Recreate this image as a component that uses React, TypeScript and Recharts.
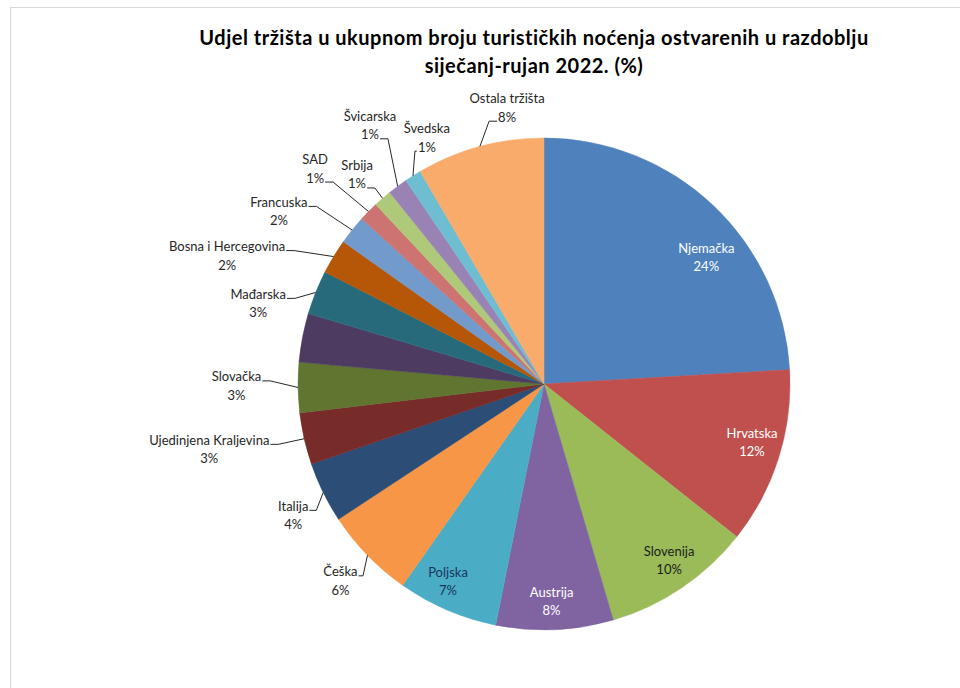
import { PieChart, Pie, Cell } from 'recharts'

// udjel tržišta, redom u smjeru kazaljke od vrha (%)
const markets = [
  'Njemačka',
  'Hrvatska',
  'Slovenija',
  'Austrija',
  'Poljska',
  'Češka',
  'Italija',
  'Ujedinjena Kraljevina',
  'Slovačka',
  '', // slice without a label in the original
  'Mađarska',
  'Bosna i Hercegovina',
  'Francuska',
  'SAD',
  'Srbija',
  'Švicarska',
  'Švedska',
  'Ostala tržišta',
]
const shares = [24.1, 11.6, 9.8, 7.7, 6.6, 6.0, 4.0, 3.4, 3.3, 3.2, 2.9, 2.3, 1.9, 1.3, 1.2, 1.3, 1.1, 8.4]

const colors = [
  '#4F81BD', '#C0504D', '#9BBB59', '#8064A2', '#4BACC6', '#F79646',
  '#2C4D75', '#772C2A', '#5F7530', '#4D3B62', '#276A7C', '#B65708',
  '#729ACA', '#CD7371', '#AFC97A', '#9983B5', '#6FBDD1', '#F9AB6B',
]

// label placement: angle clockwise from 12 o'clock, distance past the rim, where the leader attaches
type Place = { a: number; gap: number; attach: 'in' | 'name' | 'pct'; color?: string } | null
const places: Place[] = [
  { a: 52, gap: -40, attach: 'in', color: '#ffffff' },
  { a: 105.6, gap: -30, attach: 'in', color: '#ffffff' },
  { a: 144.6, gap: -30, attach: 'in', color: '#1a1a1a' },
  { a: 178, gap: -29, attach: 'in', color: '#ffffff' },
  { a: 206, gap: -27, attach: 'in', color: '#17365D' },
  { a: 226, gap: 37, attach: 'name' },
  { a: 242.4, gap: 37, attach: 'name' },
  { a: 259, gap: 95, attach: 'name' },
  { a: 269.7, gap: 61.5, attach: 'name' },
  null,
  { a: 285.8, gap: 51, attach: 'name' },
  { a: 292.1, gap: 96, attach: 'name' },
  { a: 303.1, gap: 70.5, attach: 'name' },
  { a: 313.3, gap: 68.5, attach: 'pct' },
  { a: 318.3, gap: 35, attach: 'pct' },
  { a: 326.1, gap: 66, attach: 'pct' },
  { a: 334.6, gap: 27, attach: 'pct' },
  { a: 352.4, gap: 33, attach: 'pct' },
]

const data = markets.map((name, i) => ({ name, value: shares[i] }))

const FONT = 'Lato, "Open Sans", sans-serif'
const FS = 13

let ctx: CanvasRenderingContext2D | null = null
function textWidth(s: string) {
  if (!ctx) ctx = document.createElement('canvas').getContext('2d')
  if (!ctx) return s.length * 6.5
  ctx.font = `${FS}px Lato`
  return ctx.measureText(s).width
}

const RAD = Math.PI / 180

function renderLabel(props: any) {
  const { cx, cy, midAngle, outerRadius, percent, index, name } = props
  const p = places[index]
  if (!p) return null
  const pct = `${Math.round(percent * 100)}%`
  const r = outerRadius + p.gap
  const lx = cx + r * Math.sin(p.a * RAD)
  const ly = cy - r * Math.cos(p.a * RAD)
  const nameY = ly - 9.25
  const pctY = ly + 9.25

  let leader = null
  if (p.attach !== 'in') {
    const m = (90 - midAngle) * RAD
    const ex = cx + outerRadius * Math.sin(m)
    const ey = cy - outerRadius * Math.cos(m)
    const row = p.attach === 'name' ? name : pct
    const half = textWidth(row) / 2
    const dir = ex > lx ? 1 : -1
    const ax = lx + dir * (half + 1)
    const ay = (p.attach === 'name' ? nameY : pctY) + 4.5
    const run = Math.min(8, Math.abs(ex - ax) * 0.5)
    const kx = ax + dir * run
    leader = (
      <path
        d={`M${ax},${ay}L${kx},${ay}L${ex},${ey}`}
        stroke="#262626"
        strokeWidth={1}
        fill="none"
      />
    )
  }

  const fill = p.color || '#262626'
  return (
    <g key={`lbl-${index}`}>
      {leader}
      <text x={lx} y={nameY} textAnchor="middle" dominantBaseline="central" fill={fill} fontFamily={FONT} fontSize={FS}>
        {name}
      </text>
      <text x={lx} y={pctY} textAnchor="middle" dominantBaseline="central" fill={fill} fontFamily={FONT} fontSize={FS}>
        {pct}
      </text>
    </g>
  )
}

export default function App() {
  return (
    <div
      style={{
        position: 'fixed',
        left: 0,
        top: 0,
        width: 960,
        height: 688,
        overflow: 'hidden',
        background: '#ffffff',
      }}
    >
      <div
        style={{
          position: 'absolute',
          left: 10,
          top: 7,
          width: 1000,
          height: 720,
          border: '1px solid #d9d9d9',
        }}
      />
      <div
        style={{
          position: 'absolute',
          left: 0,
          top: 23,
          width: 1068,
          textAlign: 'center',
          fontFamily: 'Lato, sans-serif',
          fontWeight: 700,
          fontSize: 20,
          letterSpacing: 0.5,
          lineHeight: '28px',
          color: '#000000',
        }}
      >
        Udjel tržišta u ukupnom broju turističkih noćenja ostvarenih u razdoblju
        <br />
        siječanj-rujan 2022. (%)
      </div>
      <div style={{ position: 'absolute', left: 0, top: 0 }}>
        <PieChart width={960} height={688} margin={{ top: 0, right: 0, bottom: 0, left: 0 }}>
          <Pie
            data={data}
            dataKey="value"
            nameKey="name"
            cx={544}
            cy={384}
            outerRadius={246}
            startAngle={90}
            endAngle={-270}
            label={renderLabel}
            labelLine={false}
            isAnimationActive={false}
          >
            {data.map((d, i) => (
              <Cell key={d.name + i} fill={colors[i]} stroke={colors[i]} strokeWidth={0.5} />
            ))}
          </Pie>
        </PieChart>
      </div>
    </div>
  )
}
